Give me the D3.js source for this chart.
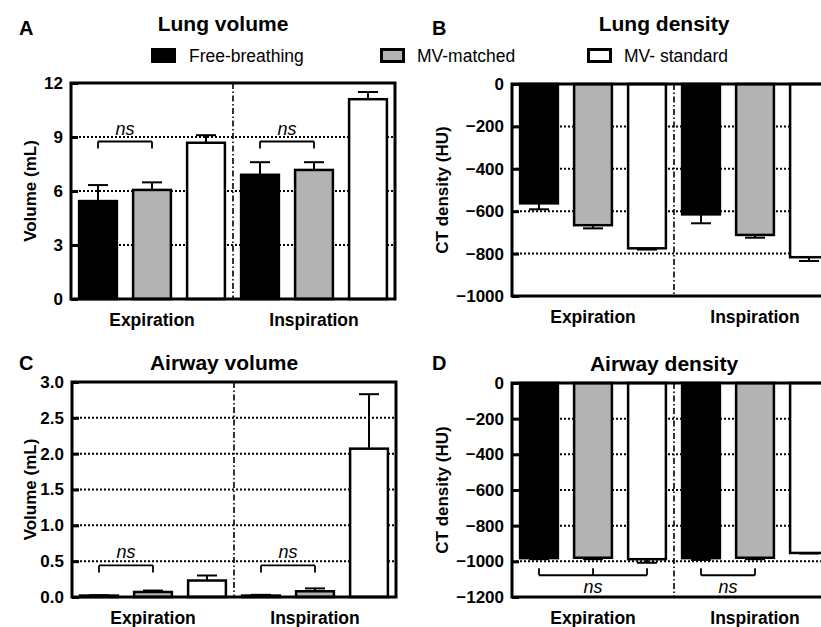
<!DOCTYPE html>
<html>
<head>
<meta charset="utf-8">
<script src="https://cdn.jsdelivr.net/npm/d3@7/dist/d3.min.js"></script>
<style>
  html, body { margin: 0; padding: 0; background: #fff; overflow: hidden; }
  svg { display: block; font-family: "Liberation Sans", Arial, sans-serif; }
</style>
</head>
<body>
<svg id="chart" width="821" height="627"></svg>
<script>
// categories
const phases = ["Expiration", "Inspiration"];
const groups = ["Free-breathing", "MV-matched", "MV- standard"];

// bar order: Exp FB, Exp MVm, Exp MVs, Insp FB, Insp MVm, Insp MVs
const lungVolumeMean = [5.44, 6.06, 8.68, 6.9, 7.17, 11.1];
const lungVolumeErr = [0.89, 0.42, 0.42, 0.7, 0.43, 0.4];
const lungVolumeTicks = [0, 3, 6, 9, 12];

const lungDensityMean = [-563, -666, -775, -615, -712, -817];
const lungDensityErr = [28, 15, 6, 42, 13, 18];
const lungDensityTicks = [0, -200, -400, -600, -800, -1000];

const airwayVolumeMean = [0.02, 0.07, 0.23, 0.02, 0.08, 2.07];
const airwayVolumeErr = [0.005, 0.02, 0.07, 0.01, 0.04, 0.76];
const airwayVolumeTicks = [0, 0.5, 1.0, 1.5, 2.0, 2.5, 3.0];

const airwayDensityMean = [-982, -980, -988, -982, -980, -953];
const airwayDensityErr = [6, 8, 20, 10, 8, 3];
const airwayDensityTicks = [0, -200, -400, -600, -800, -1000, -1200];

// "ns" brackets: bars joined and level in data units
const lungVolumeNs = [{ bars: [0, 1], at: 8.75 }, { bars: [3, 4], at: 8.75 }];
const airwayVolumeNs = [{ bars: [0, 1], at: 0.44 }, { bars: [3, 4], at: 0.44 }];
const airwayDensityNs = [{ bars: [0, 1, 2], at: -1078 }, { bars: [3, 4], at: -1078 }];

const fills = ["#000000", "#b3b3b3", "#ffffff"];
const svg = d3.select("#chart");
const W = 324;
const fmtInt = d3.format("d");

const panels = [
  { letter: "A", title: "Lung volume", ylabel: "Volume (mL)", x: 71, y: 83, h: 216, labX: -41, titleY: -52, letterY: -48,
    mean: lungVolumeMean, err: lungVolumeErr, ticks: lungVolumeTicks, fmt: fmtInt, ns: lungVolumeNs, nsDir: -1 },
  { letter: "B", title: "Lung density", ylabel: "CT density (HU)", x: 512, y: 84, h: 212, labX: -70, titleY: -53, letterY: -49,
    mean: lungDensityMean, err: lungDensityErr, ticks: lungDensityTicks, fmt: fmtInt, ns: [] },
  { letter: "C", title: "Airway volume", ylabel: "Volume (mL)", x: 72, y: 382, h: 215, labX: -42, titleY: -12, letterY: -12,
    mean: airwayVolumeMean, err: airwayVolumeErr, ticks: airwayVolumeTicks, fmt: d3.format(".1f"), ns: airwayVolumeNs, nsDir: -1 },
  { letter: "D", title: "Airway density", ylabel: "CT density (HU)", x: 512, y: 383, h: 214, labX: -70, titleY: -12, letterY: -13,
    mean: airwayDensityMean, err: airwayDensityErr, ticks: airwayDensityTicks, fmt: fmtInt, ns: airwayDensityNs, nsDir: 1 }
];

panels.forEach(p => {
  const g = svg.append("g").attr("transform", `translate(${p.x},${p.y})`);
  const ext = d3.extent(p.ticks);
  const y = d3.scaleLinear().domain(ext[1] > 0 ? [0, ext[1]] : [ext[0], 0]).range([p.h, 0]);
  const x = d3.scaleBand().domain(d3.range(6)).range([0, W]).paddingInner(0.3).paddingOuter(0.15);

  // dotted grid
  g.selectAll(".grid").data(p.ticks.filter(t => t !== ext[0] && t !== ext[1]))
    .enter().append("line")
    .attr("x1", 0).attr("x2", W)
    .attr("y1", d => y(d)).attr("y2", d => y(d))
    .attr("stroke", "#000").attr("stroke-width", 2).attr("stroke-dasharray", "2,2");

  // phase divider
  g.append("line").attr("x1", W / 2).attr("x2", W / 2).attr("y1", 0).attr("y2", p.h)
    .attr("stroke", "#000").attr("stroke-width", 1.6).attr("stroke-dasharray", "6,2.5,1.5,2.5");

  // error bars
  const eb = g.selectAll(".err").data(p.mean).enter().append("g");
  eb.append("line")
    .attr("x1", (d, i) => x(i) + x.bandwidth() / 2).attr("x2", (d, i) => x(i) + x.bandwidth() / 2)
    .attr("y1", d => y(d)).attr("y2", (d, i) => y(d + Math.sign(d) * p.err[i]))
    .attr("stroke", "#000").attr("stroke-width", 2);
  eb.append("line")
    .attr("x1", (d, i) => x(i) + x.bandwidth() / 2 - 10).attr("x2", (d, i) => x(i) + x.bandwidth() / 2 + 10)
    .attr("y1", (d, i) => y(d + Math.sign(d) * p.err[i])).attr("y2", (d, i) => y(d + Math.sign(d) * p.err[i]))
    .attr("stroke", "#000").attr("stroke-width", 2);

  // bars
  g.selectAll(".bar").data(p.mean).enter().append("rect")
    .attr("x", (d, i) => x(i))
    .attr("width", x.bandwidth())
    .attr("y", d => Math.min(y(d), y(0)))
    .attr("height", d => Math.abs(y(d) - y(0)))
    .attr("fill", (d, i) => fills[i % 3])
    .attr("stroke", "#000").attr("stroke-width", 2.5);

  // ns brackets
  p.ns.forEach(b => {
    const cx = b.bars.map(i => x(i) + x.bandwidth() / 2);
    const by = y(b.at);
    const tick = 7 * (p.nsDir > 0 ? -1 : 1);
    g.append("line").attr("x1", cx[0]).attr("x2", cx[cx.length - 1]).attr("y1", by).attr("y2", by)
      .attr("stroke", "#000").attr("stroke-width", 1.8);
    cx.forEach(c => g.append("line").attr("x1", c).attr("x2", c).attr("y1", by).attr("y2", by + tick)
      .attr("stroke", "#000").attr("stroke-width", 1.8));
    g.append("text").attr("x", (cx[0] + cx[cx.length - 1]) / 2)
      .attr("y", p.nsDir > 0 ? by + 18 : by - 7)
      .attr("text-anchor", "middle").attr("font-style", "italic").attr("font-size", 18).text("ns");
  });

  // frame
  g.append("rect").attr("width", W).attr("height", p.h)
    .attr("fill", "none").attr("stroke", "#000").attr("stroke-width", 3);

  // y axis
  const ax = g.append("g").call(d3.axisLeft(y).tickValues(p.ticks).tickFormat(p.fmt)
    .tickSizeInner(-7).tickSizeOuter(0).tickPadding(8));
  ax.attr("font-family", null).attr("font-size", null);
  ax.select(".domain").remove();
  ax.selectAll(".tick line").attr("stroke-width", 3);
  ax.selectAll(".tick text").style("font-size", "17px").style("font-weight", "bold").attr("fill", "#000");

  // category labels
  g.selectAll(".cat").data(phases).enter().append("text")
    .attr("x", (d, i) => x(i * 3 + 1) + x.bandwidth() / 2)
    .attr("y", p.h + 27)
    .attr("text-anchor", "middle").attr("font-size", 17.5).attr("font-weight", "bold").text(d => d);

  // y label
  g.append("text").attr("transform", `translate(${p.labX + 6},${p.h / 2}) rotate(-90)`)
    .attr("text-anchor", "middle").attr("font-size", 17).attr("font-weight", "bold").text(p.ylabel);

  // title & letter
  g.append("text").attr("x", W / 2 - 10).attr("y", p.titleY).attr("text-anchor", "middle")
    .attr("font-size", 21).attr("font-weight", "bold").text(p.title);
  g.append("text").attr("x", (p.letter === "A" || p.letter === "C") ? 19 - p.x : 432 - p.x)
    .attr("y", p.letterY).attr("font-size", 20).attr("font-weight", "bold").text(p.letter);
});

// legend
const legX = [151, 380, 587];
const legTextX = [189, 417, 624];
const leg = svg.append("g");
groups.forEach((name, i) => {
  leg.append("rect").attr("x", legX[i] + 1.5).attr("y", 49.5).attr("width", 22).attr("height", 12)
    .attr("fill", fills[i]).attr("stroke", "#000").attr("stroke-width", 3);
  leg.append("text").attr("x", legTextX[i]).attr("y", 62).attr("font-size", 17.5).text(name);
});
</script>
</body>
</html>
